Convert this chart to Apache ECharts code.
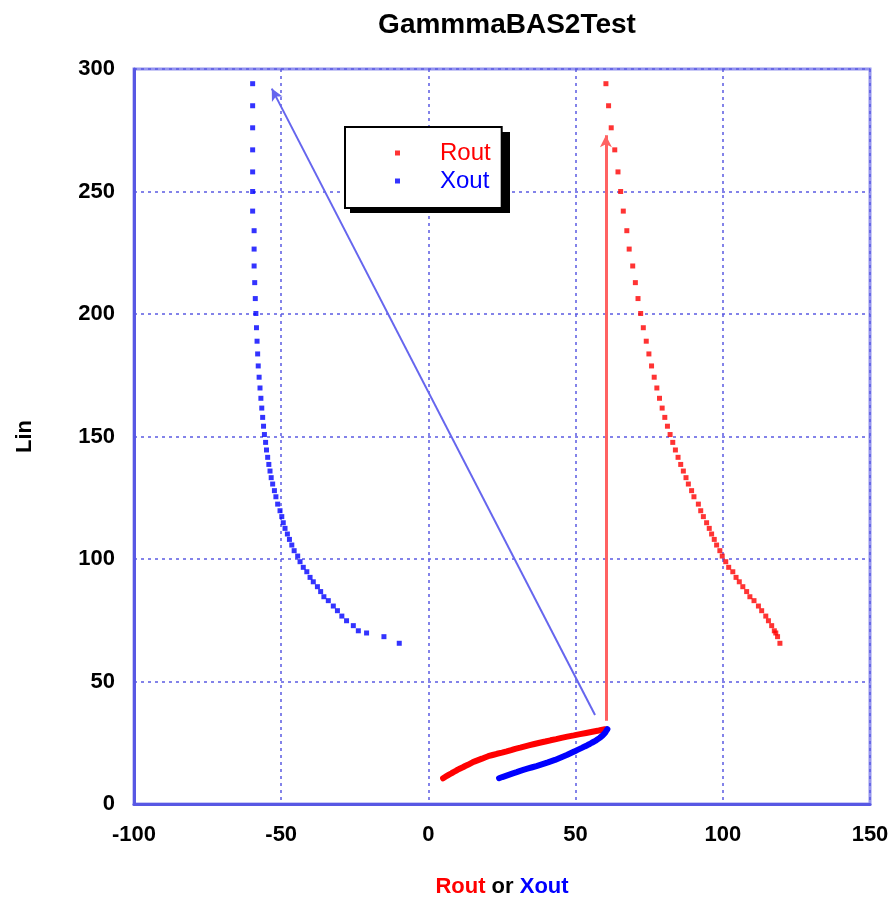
<!DOCTYPE html>
<html>
<head>
<meta charset="utf-8">
<script src="https://cdn.jsdelivr.net/npm/echarts@6/dist/echarts.min.js"></script>
<style>
  html, body { margin: 0; padding: 0; background: #fff; }
  #chart { width: 894px; height: 898px; }
</style>
</head>
<body>
<div id="chart"></div>
<script>
// lower branch (Lin 10.5 .. 30.5), dense enough to read as a thick stroke
var linLow = [10.5, 11, 11.5, 12, 12.5, 13, 13.5, 14, 14.5, 15, 15.5, 16, 16.5, 17, 17.5, 18, 18.5, 19, 19.5, 20,
    20.5, 21, 21.5, 22, 22.5, 23, 23.5, 24, 24.5, 25, 25.5, 26, 26.5, 27, 27.5, 28, 28.5, 29, 29.5, 30, 30.5];
var routLow = [5, 5.6, 6.3, 7, 7.8, 8.5, 9.3, 10, 10.8, 11.7, 12.5, 13.4, 14.2, 15, 16, 17.1, 18.2, 19.2, 20.3, 21.8,
    23.3, 25, 26.6, 28.1, 29.5, 31.2, 32.8, 34.4, 36, 37.8, 39.7, 41.5, 43.4, 45.2, 47.2, 49.4, 51.5, 53.6, 55.7, 57.9, 60];
var xoutLow = [24, 25.1, 26.3, 27.5, 28.7, 30, 31.2, 32.5, 33.9, 35.3, 36.7, 38, 39.3, 40.6, 41.8, 43, 44, 45, 46, 47,
    47.9, 48.8, 49.7, 50.5, 51.4, 52.3, 53.1, 54, 54.8, 55.5, 56.3, 57, 57.6, 58.2, 58.7, 59.2, 59.6, 60, 60.3, 60.5, 60.8];

// upper branch (Lin 65 .. 294)
var linHigh = [294, 285, 276, 267, 258, 250, 242, 234, 226.5, 219.6, 212.8, 206.3, 200.2, 194.4, 188.9, 183.7, 178.8,
    174.2, 169.8, 165.6, 161.6, 157.8, 154.2, 150.8, 147.6, 144.5, 141.5, 138.6, 135.9, 133.2, 130.6, 127.9, 125.4,
    122.4, 119.7, 117.3, 114.8, 112.5, 110.2, 108.0, 105.7, 103.4, 101.2, 98.9, 96.6, 94.8, 92.5, 90.7, 88.7, 86.7,
    84.6, 83.0, 80.8, 78.9, 76.7, 74.8, 72.8, 70.7, 69.8, 68.3, 65.6];
var routHigh = [60.3, 61.2, 62.1, 63.3, 64.4, 65.3, 66.2, 67.4, 68.2, 69.4, 70.3, 71.2, 72.1, 73.0, 74.0, 74.9, 75.8,
    76.7, 77.6, 78.5, 79.4, 80.3, 81.2, 82.1, 83.0, 83.9, 84.8, 85.7, 86.6, 87.5, 88.3, 89.4, 90.2,
    91.7, 92.5, 93.4, 94.5, 95.4, 96.2, 97.1, 97.9, 99.0, 99.8, 101.0, 102.0, 103.4, 104.5, 105.6, 106.8, 108.1,
    109.2, 110.6, 112.1, 113.2, 114.6, 115.5, 116.6, 117.5, 118.0, 118.6, 119.4];
var xoutHigh = [-59.7, -59.7, -59.7, -59.7, -59.7, -59.7, -59.7, -59.2, -59.2, -59.2, -59.0, -58.8, -58.6, -58.4, -58.2, -58.0, -57.8,
    -57.5, -57.2, -56.9, -56.6, -56.3, -56.0, -55.7, -55.3, -55.0, -54.6, -54.2, -53.8, -53.4, -52.9, -52.3, -51.8,
    -51.2, -50.4, -49.8, -49.3, -48.7, -47.9, -47.2, -46.4, -45.6, -44.4, -43.6, -42.5, -41.3, -40.2, -39.1, -37.7, -36.6,
    -35.5, -34.0, -32.3, -30.9, -29.4, -27.8, -25.5, -23.8, -21.0, -15.1, -9.9];

// arrows drawn on the chart: [start, end]
var routArrow = [[60.3, 34], [60.3, 273]];
var xoutArrow = [[56.6, 36.3], [-53.2, 292]];

var xTicks = { min: -100, max: 150, interval: 50 };
var yTicks = { min: 0, max: 300, interval: 50 };

function pairs(xs, ys) {
    var out = [];
    for (var i = 0; i < xs.length; i++) out.push([xs[i], ys[i]]);
    return out;
}

var FONT = 'Arial, Liberation Sans, sans-serif';
var labelFont = { color: '#000', fontSize: 22, fontWeight: 'bold', fontFamily: FONT };
var gridLine = { show: true, lineStyle: { color: 'rgba(90,90,225,0.75)', width: 2, type: [3, 4] } };

function arrow(pts, color, width) {
    return {
        silent: true,
        symbol: ['none', 'arrow'],
        symbolSize: [9, 12],
        label: { show: false },
        lineStyle: { color: color, width: width, type: 'solid' },
        data: [[{ coord: pts[0] }, { coord: pts[1] }]]
    };
}

var myChart = echarts.init(document.getElementById('chart'));
var option = {
    animation: false,
    title: {
        text: 'GammmaBAS2Test',
        left: 502,
        top: 6,
        textAlign: 'center',
        textStyle: {
            fontSize: 28, fontWeight: 'bold', color: '#000', fontFamily: FONT,
            textShadowColor: 'rgba(0,0,0,0.4)', textShadowOffsetX: 1, textShadowOffsetY: 1, textShadowBlur: 0
        }
    },
    // shadow block behind the legend box
    graphic: [{
        type: 'rect',
        z: 1,
        shape: { x: 350, y: 132, width: 160, height: 81 },
        style: { fill: '#000' }
    }],
    legend: {
        orient: 'vertical',
        left: 345,
        top: 127,
        z: 10,
        padding: [14, 11, 15, 50],
        itemGap: 4,
        itemWidth: 5,
        itemHeight: 5,
        backgroundColor: '#fff',
        borderColor: '#000',
        borderWidth: 2,
        textStyle: { fontSize: 24, fontFamily: FONT, padding: [0, 0, 0, 35] },
        data: [
            { name: 'Rout', icon: 'rect', textStyle: { color: '#ff0000' } },
            { name: 'Xout', icon: 'rect', textStyle: { color: '#0000ff' } }
        ]
    },
    grid: {
        left: 134, right: 24, top: 69, bottom: 94,
        outerBoundsMode: 'none',
        show: true,
        borderColor: '#9494ee',
        borderWidth: 3
    },
    xAxis: {
        type: 'value',
        min: xTicks.min, max: xTicks.max, interval: xTicks.interval,
        axisLine: { show: true, onZero: false, lineStyle: { color: '#5858e4', width: 3 } },
        axisTick: { show: false },
        axisLabel: Object.assign({ margin: 20 }, labelFont),
        splitLine: gridLine,
        name: '{r|Rout} {k|or} {b|Xout}',
        nameLocation: 'middle',
        nameGap: 72,
        nameTextStyle: {
            fontSize: 22, fontWeight: 'bold', fontFamily: FONT,
            rich: {
                r: Object.assign({}, labelFont, { color: '#ff0000' }),
                k: Object.assign({}, labelFont, { color: '#000' }),
                b: Object.assign({}, labelFont, { color: '#0000ff' })
            }
        }
    },
    yAxis: {
        type: 'value',
        min: yTicks.min, max: yTicks.max, interval: yTicks.interval,
        axisLine: { show: true, onZero: false, lineStyle: { color: '#5858e4', width: 3 } },
        axisTick: { show: false },
        axisLabel: Object.assign({ margin: 19 }, labelFont),
        splitLine: gridLine,
        name: 'Lin',
        nameLocation: 'middle',
        nameGap: 98,
        nameRotate: 90,
        nameTextStyle: labelFont
    },
    series: [
        {
            name: 'Rout',
            type: 'scatter',
            symbol: 'rect',
            symbolSize: 5,
            itemStyle: { color: '#ff0000' },
            data: pairs(routHigh, linHigh),
            markLine: arrow(routArrow, '#ff6262', 3)
        },
        {
            name: 'Xout',
            type: 'scatter',
            symbol: 'rect',
            symbolSize: 5,
            itemStyle: { color: '#0000ff' },
            data: pairs(xoutHigh, linHigh),
            markLine: arrow(xoutArrow, '#6666ee', 2)
        },
        {
            name: 'Rout',
            type: 'line',
            showSymbol: false,
            lineStyle: { color: '#ff0000', width: 6, cap: 'round' },
            itemStyle: { color: '#ff0000' },
            data: pairs(routLow, linLow)
        },
        {
            name: 'Xout',
            type: 'line',
            showSymbol: false,
            lineStyle: { color: '#0000ff', width: 6, cap: 'round' },
            itemStyle: { color: '#0000ff' },
            data: pairs(xoutLow, linLow)
        }
    ]
};
myChart.setOption(option);
</script>
</body>
</html>
